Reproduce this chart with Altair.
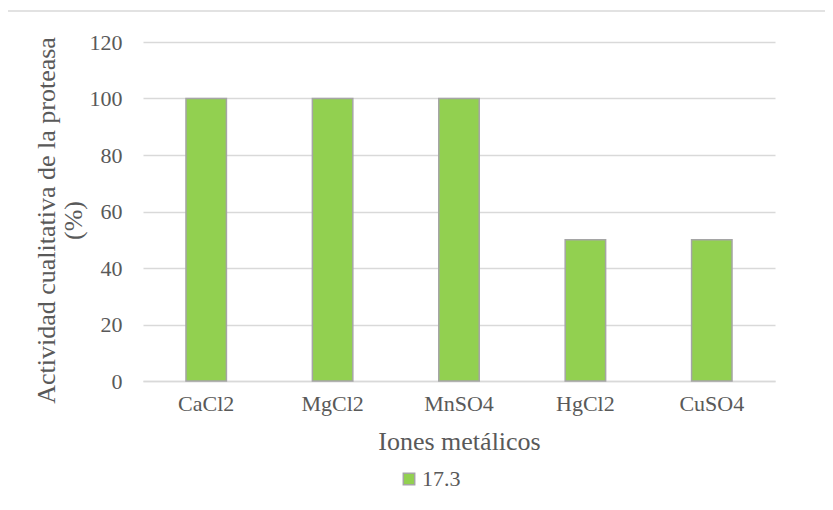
import altair as alt
import pandas as pd

categories = ["CaCl2", "MgCl2", "MnSO4", "HgCl2", "CuSO4"]
values = [100, 100, 100, 50, 50]
series = ["17.3"] * len(categories)

df = pd.DataFrame({"ion": categories, "actividad": values, "serie": series})

FONT = "Times New Roman, Liberation Serif, DejaVu Serif, serif"
GREY = "#595959"

bars = alt.Chart(df).mark_bar(stroke="#A5A5A5", strokeWidth=1.5).encode(
    x=alt.X(
        "ion:N",
        sort=categories,
        scale=alt.Scale(paddingInner=0.68, paddingOuter=0.34),
        axis=alt.Axis(
            title="Iones metálicos",
            labelAngle=0,
            labelFont=FONT,
            labelFontSize=22,
            labelColor=GREY,
            labelPadding=12,
            titleFont=FONT,
            titleFontSize=26,
            titleFontWeight="normal",
            titleColor=GREY,
            titlePadding=14,
            ticks=False,
            domainColor="#D9D9D9",
            domainWidth=1.5,
            grid=False,
        ),
    ),
    y=alt.Y(
        "actividad:Q",
        scale=alt.Scale(domain=[0, 120]),
        axis=alt.Axis(
            title=["Actividad cualitativa de la proteasa", "(%)"],
            values=[0, 20, 40, 60, 80, 100, 120],
            labelFont=FONT,
            labelFontSize=22,
            labelColor=GREY,
            labelPadding=21,
            tickSize=0,
            ticks=False,
            domain=False,
            gridColor="#D9D9D9",
            gridWidth=1.5,
            titleFont=FONT,
            titleFontSize=26,
            titleFontWeight="normal",
            titleColor=GREY,
            titleLineHeight=27,
            titlePadding=3,
            titleY=178,
        ),
    ),
    color=alt.Color(
        "serie:N",
        scale=alt.Scale(range=["#92D050"]),
        legend=alt.Legend(
            title=None,
            orient="none",
            legendX=255,
            legendY=426,
            symbolType="square",
            symbolSize=130,
            symbolStrokeColor="#A5A5A5",
            symbolStrokeWidth=1.5,
            symbolFillColor="#92D050",
            labelFont=FONT,
            labelFontSize=22,
            labelColor=GREY,
            labelOffset=2,
            padding=0,
        ),
    ),
)

frame_df = pd.DataFrame({"k": [0]})
frame = alt.Chart(frame_df).mark_rect(fill="transparent", stroke="#D9D9D9", strokeWidth=1.5).encode(
    x=alt.value(-136), x2=alt.value(720), y=alt.value(-31), y2=alt.value(500)
)

chart = alt.layer(frame, bars).properties(
    width=632,
    height=339,
    autosize=alt.AutoSizeParams(type="none"),
    padding={"left": 135, "top": 34, "right": 50, "bottom": 121},
).configure(background="white", font=FONT).configure_view(stroke=None)

chart.save("out.html", embed_options={"renderer": "svg", "actions": False})
